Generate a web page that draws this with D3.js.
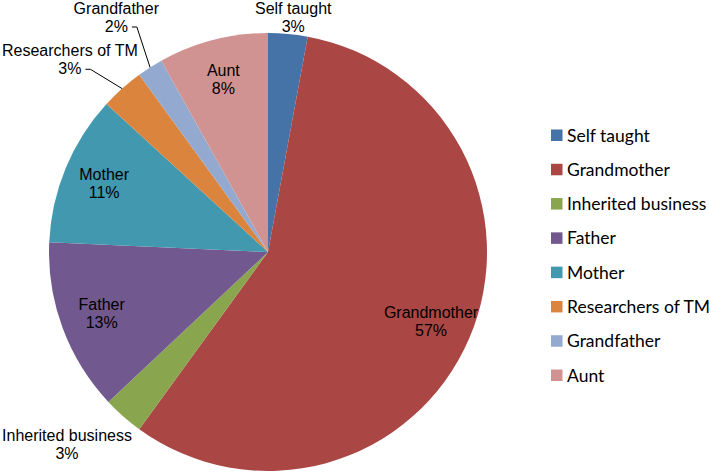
<!DOCTYPE html>
<html>
<head>
<meta charset="utf-8">
<script src="https://cdn.jsdelivr.net/npm/d3@7"></script>
<style>
  body { margin: 0; background: #fff; }
  .lbl { font-family: "Liberation Sans", Arial, sans-serif; font-size: 16px; fill: #000; }
  .leg { font-family: Lato, "Noto Sans", sans-serif; font-size: 17.5px; fill: #000; }
</style>
</head>
<body>
<div id="chart"></div>
<script>

// data (percent of respondents)
var categories = ["Self taught", "Grandmother", "Inherited business", "Father",
                  "Mother", "Researchers of TM", "Grandfather", "Aunt"];
var shares = [2.9, 57.1, 3.0, 12.7, 11.1, 3.2, 1.9, 8.1];
var colors = ["#4572A7", "#AA4643", "#89A54E", "#71588F",
              "#4198AF", "#DB843D", "#93A9CF", "#D19392"];

var width = 709, height = 475;
var cx = 268, cy = 252, radius = 219;

var svg = d3.select("#chart").append("svg")
    .attr("width", width)
    .attr("height", height);

var data = categories.map(function (c, i) {
    return {name: c, value: shares[i], index: i};
});

var color = d3.scaleOrdinal().domain(categories).range(colors);

var pie = d3.pie().sort(null).value(function (d) { return d.value; });
var arc = d3.arc().innerRadius(0).outerRadius(radius);
var slices = pie(data);

var pieGroup = svg.append("g")
    .attr("transform", "translate(" + cx + "," + cy + ")");

pieGroup.selectAll(".slice")
    .data(slices)
    .enter().append("path")
    .attr("class", "slice")
    .attr("d", arc)
    .attr("fill", function (d) { return color(d.data.name); });

// position on the circle, absolute coords
function polar(r, a) {
    return [cx + r * Math.sin(a), cy - r * Math.cos(a)];
}

var labelGroup = svg.append("g");
var labels = [];

slices.forEach(function (s) {
    var mid = (s.startAngle + s.endAngle) / 2;
    var lines = [s.data.name, Math.round(s.data.value) + "%"];
    var g = labelGroup.append("g");
    var texts = lines.map(function (t) {
        return g.append("text").attr("class", "lbl")
            .attr("text-anchor", "middle").text(t);
    });
    var widths = texts.map(function (t) { return t.node().getComputedTextLength(); });
    var w = d3.max(widths), h = 36;
    var inside = s.data.value >= 5;
    var x, y;
    if (inside) {
        var p = polar(radius * 0.81, mid);
        x = p[0]; y = p[1];
    } else {
        var q = polar(radius + 20, mid);
        x = q[0] + Math.sin(mid) * w / 2;
        y = q[1] - Math.cos(mid) * h / 2;
    }
    labels.push({slice: s, mid: mid, g: g, texts: texts, widths: widths,
                 w: w, h: h, x: x, y: y, inside: inside});
});

// push overlapping outside labels apart, keep them on the page
var outside = labels.filter(function (l) { return !l.inside; });
outside.forEach(function (l, i) {
    l.x = Math.max(l.x, l.w / 2 + 2);
    for (var j = 0; j < i; j++) {
        var o = outside[j];
        var overlapX = Math.abs(l.x - o.x) < (l.w + o.w) / 2;
        var overlapY = Math.abs(l.y - o.y) < (l.h + o.h) / 2;
        if (overlapX && overlapY) {
            if (l.y < o.y) l.y = o.y - (l.h + o.h) / 2 - 8;
            else l.y = o.y + (l.h + o.h) / 2 + 8;
        }
    }
    l.y = Math.max(l.y, 18);
});

labels.forEach(function (l) {
    l.texts.forEach(function (t, i) {
        t.attr("x", l.x).attr("y", l.y - 4 + i * 18);
    });
});

// leader lines for crowded neighbouring small slices
var n = labels.length;
labels.forEach(function (l, i) {
    if (l.inside) return;
    var prev = labels[(i - 1 + n) % n], next = labels[(i + 1) % n];
    if (prev.inside && next.inside) return;
    var e = polar(radius, l.mid);
    var side = Math.sin(l.mid) < 0 ? 1 : -1;
    var best = null;
    l.widths.forEach(function (w, k) {
        var px = l.x + side * (w / 2 + 4);
        var py = l.y - 4 + k * 18 - 5;
        var d = Math.hypot(px - e[0], py - e[1]);
        if (!best || d < best.d) best = {x: px, y: py, d: d};
    });
    var pts = [[best.x, best.y]];
    if (side * (e[0] - (best.x + side * 5)) > 0) pts.push([best.x + side * 5, best.y]);
    pts.push(e);
    labelGroup.append("path")
        .attr("d", d3.line()(pts))
        .attr("fill", "none")
        .attr("stroke", "#000")
        .attr("stroke-width", 1);
});

// legend
var legendY = d3.scalePoint().domain(categories).range([135, 375]);
var legend = svg.append("g").selectAll(".item")
    .data(categories)
    .enter().append("g")
    .attr("class", "item")
    .attr("transform", function (d) { return "translate(551," + legendY(d) + ")"; });

legend.append("rect")
    .attr("x", 0).attr("y", -5.5)
    .attr("width", 11.5).attr("height", 11.5)
    .attr("fill", function (d) { return color(d); });

legend.append("text")
    .attr("class", "leg")
    .attr("x", 16).attr("y", 6.5)
    .text(function (d) { return d; });

</script>
</body>
</html>
